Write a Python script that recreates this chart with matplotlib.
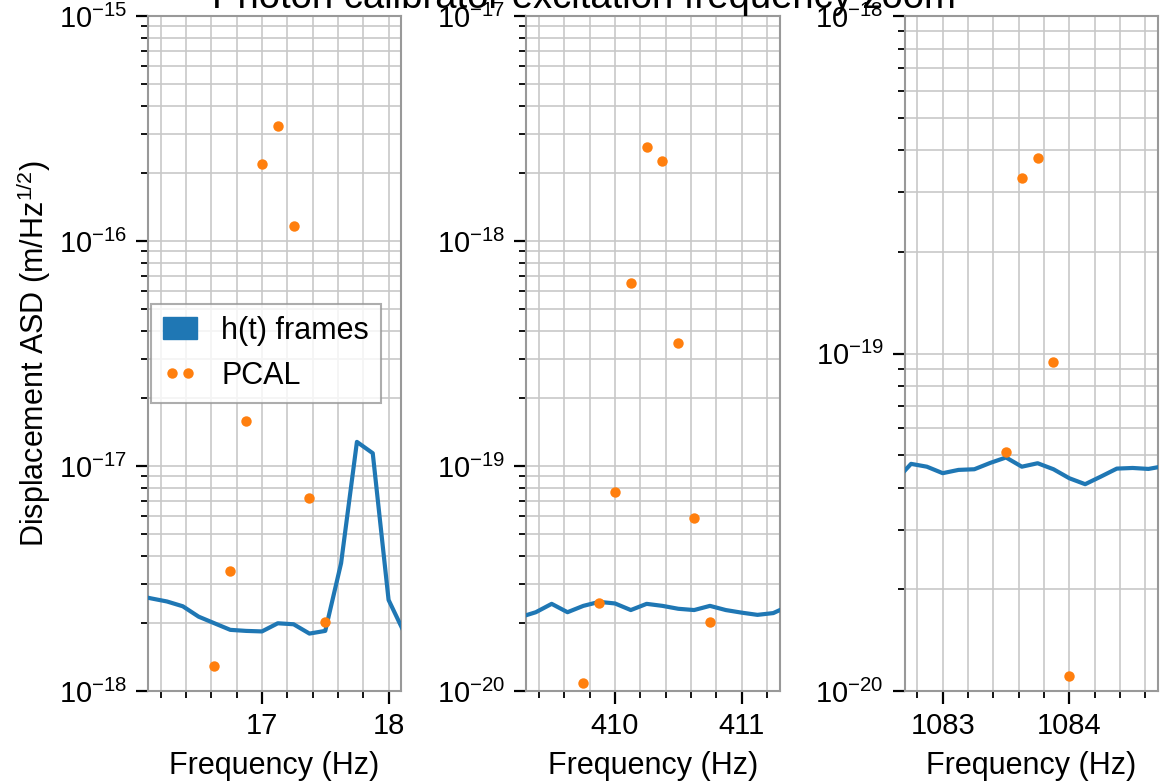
import matplotlib
matplotlib.use("Agg")
import matplotlib.pyplot as plt
from matplotlib.patches import Patch
from matplotlib.lines import Line2D
from matplotlib.ticker import MultipleLocator, LogLocator, NullFormatter

plt.rcParams["font.family"] = ["Liberation Sans", "DejaVu Sans"]
plt.rcParams["mathtext.fontset"] = "custom"
plt.rcParams["mathtext.rm"] = "Liberation Sans"
plt.rcParams["mathtext.it"] = "Liberation Sans:italic"
plt.rcParams["mathtext.bf"] = "Liberation Sans:bold"
plt.rcParams["axes.edgecolor"] = "#999999"
plt.rcParams["axes.linewidth"] = 1.5

# pcal line frequencies (Hz) -> panel centres
pcal_lines = [17.1, 410.3, 1083.7]
ylims = [(1e-18, 1e-15), (1e-20, 1e-17), (1e-20, 1e-18)]

# h(t) frames ASD
ht_f1 = [16.0, 16.125, 16.25, 16.375, 16.5, 16.625, 16.75, 16.875, 17.0, 17.125,
         17.25, 17.375, 17.5, 17.625, 17.75, 17.875, 18.0, 18.125, 18.25]
ht_a1 = [2.67e-18, 2.58e-18, 2.50e-18, 2.38e-18, 2.14e-18, 2.00e-18, 1.87e-18, 1.85e-18,
         1.84e-18, 2.00e-18, 1.98e-18, 1.80e-18, 1.85e-18, 3.70e-18, 1.28e-17, 1.14e-17,
         2.54e-18, 1.81e-18, 1.69e-18]
ht_f2 = [409.25, 409.375, 409.5, 409.625, 409.75, 409.875, 410.0, 410.125, 410.25,
         410.375, 410.5, 410.625, 410.75, 410.875, 411.0, 411.125, 411.25, 411.375]
ht_a2 = [2.13e-20, 2.24e-20, 2.44e-20, 2.24e-20, 2.39e-20, 2.49e-20, 2.45e-20, 2.29e-20,
         2.44e-20, 2.39e-20, 2.32e-20, 2.29e-20, 2.39e-20, 2.29e-20, 2.23e-20, 2.18e-20,
         2.22e-20, 2.39e-20]
ht_f3 = [1082.625, 1082.75, 1082.875, 1083.0, 1083.125, 1083.25, 1083.375, 1083.5,
         1083.625, 1083.75, 1083.875, 1084.0, 1084.125, 1084.25, 1084.375, 1084.5,
         1084.625, 1084.75]
ht_a3 = [4.19e-20, 4.71e-20, 4.62e-20, 4.42e-20, 4.52e-20, 4.54e-20, 4.74e-20, 4.92e-20,
         4.62e-20, 4.73e-20, 4.54e-20, 4.27e-20, 4.10e-20, 4.32e-20, 4.56e-20, 4.58e-20,
         4.55e-20, 4.64e-20]

# PCAL displacement ASD
pc_f1 = [16.625, 16.75, 16.875, 17.0, 17.125, 17.25, 17.375, 17.5]
pc_a1 = [1.29e-18, 3.41e-18, 1.58e-17, 2.20e-16, 3.24e-16, 1.17e-16, 7.2e-18, 2.03e-18]
pc_f2 = [409.75, 409.875, 410.0, 410.125, 410.25, 410.375, 410.5, 410.625, 410.75]
pc_a2 = [1.09e-20, 2.46e-20, 7.66e-20, 6.5e-19, 2.62e-18, 2.27e-18, 3.52e-19, 5.87e-20, 2.03e-20]
pc_f3 = [1083.5, 1083.625, 1083.75, 1083.875, 1084.0]
pc_a3 = [5.1e-20, 3.31e-19, 3.79e-19, 9.44e-20, 1.11e-20]

ht_f = [ht_f1, ht_f2, ht_f3]
ht_a = [ht_a1, ht_a2, ht_a3]
pc_f = [pc_f1, pc_f2, pc_f3]
pc_a = [pc_a1, pc_a2, pc_a3]

fig, axes = plt.subplots(1, 3, figsize=(11.68, 7.84), dpi=100)
fig.subplots_adjust(left=0.1267, right=0.9914, bottom=0.1186, top=0.9796, wspace=0.494)

for i, ax in enumerate(axes):
    ax.plot(ht_f[i], ht_a[i], color="#1f77b4", lw=3, zorder=3)
    ax.plot(pc_f[i], pc_a[i], ls="none", marker="o", ms=7.5, mew=0, color="#ff7f0e", zorder=4)
    ax.set_yscale("log")
    ax.set_xlim(pcal_lines[i] - 1, pcal_lines[i] + 1)
    ax.set_ylim(*ylims[i])
    ax.xaxis.set_major_locator(MultipleLocator(1))
    ax.xaxis.set_minor_locator(MultipleLocator(0.2))
    ax.yaxis.set_minor_locator(LogLocator(base=10, subs=range(2, 10)))
    ax.yaxis.set_minor_formatter(NullFormatter())
    ax.grid(True, which="both", color="#c8c8c8", lw=1.2, ls="-")
    ax.set_axisbelow(True)
    ax.tick_params(which="major", labelsize=21, length=9, width=1.6, color="black", pad=6)
    ax.tick_params(which="minor", length=5, width=1.3, color="black")
    ax.set_xlabel("Frequency (Hz)", fontsize=22, labelpad=8)

axes[0].set_ylabel("Displacement ASD (m/Hz$^{1/2}$)", fontsize=22)

handles = [Patch(facecolor="#1f77b4", edgecolor="#1f77b4"),
           Line2D([], [], ls="none", marker="o", ms=7.5, mew=0, color="#ff7f0e")]
leg = axes[0].legend(handles, ["h(t) frames", "PCAL"], loc="center left", fontsize=22,
                     fancybox=False, edgecolor="#999999", handlelength=1.1, numpoints=2,
                     borderaxespad=0.1)
leg.get_frame().set_linewidth(1.5)

fig.text(0.5, 0.99, "Photon calibrator excitation frequency zoom", ha="center",
         va="baseline", fontsize=27.5)

fig.savefig("out.png", dpi=100)
